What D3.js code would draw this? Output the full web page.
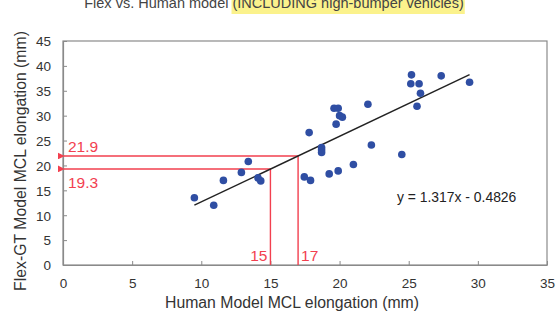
<!DOCTYPE html>
<html>
<head>
<meta charset="utf-8">
<script src="https://cdn.jsdelivr.net/npm/d3@7"></script>
<style>
  html, body { margin: 0; padding: 0; background: #fff; }
  svg { display: block; font-family: Arial, "Liberation Sans", sans-serif; }
</style>
</head>
<body>
<svg id="chart" width="560" height="321"></svg>
<script>
// Human model vs Flex-GT model MCL elongation (mm)
const humanMCL = [9.5, 10.9, 11.6, 12.9, 13.4, 14.1, 14.3, 17.45, 17.8, 17.9, 18.7, 18.7, 18.7,
  19.25, 19.9, 21.0, 19.6, 19.9, 19.75, 20.0, 20.2, 22.05, 22.3, 24.5, 25.2, 25.15, 25.75,
  25.85, 25.6, 27.35, 29.4];
const flexMCL = [13.5, 12.0, 17.0, 18.6, 20.8, 17.5, 16.9, 17.7, 26.6, 17.0, 23.6, 23.1, 22.6,
  18.3, 18.9, 20.2, 31.5, 31.5, 28.3, 30.0, 29.7, 32.3, 24.1, 22.2, 38.2, 36.4, 36.4,
  34.5, 31.9, 38.0, 36.7];

// Linear fit y = slope * x + intercept
const slope = 1.317;
const intercept = -0.4826;

// Read-off guides: human value -> predicted flex value
const guideX = [15, 17];
const guideY = [19.3, 21.9];

const xTicks = [0, 5, 10, 15, 20, 25, 30, 35];
const yTicks = [0, 5, 10, 15, 20, 25, 30, 35, 40, 45];

const svg = d3.select("#chart");
const plot = { left: 63, right: 547, top: 41, bottom: 265 };

const x = d3.scaleLinear().domain([0, 35]).range([plot.left, plot.right]);
const y = d3.scaleLinear().domain([0, 45]).range([plot.bottom, plot.top]);

const textCol = "#333";
const red = "#f2404f";

// Title (runs off the top edge), with highlighted part
const title = svg.append("text").attr("y", 8).attr("font-size", 14.5).attr("fill", "#444");
title.append("tspan").text("Flex vs. Human model ");
const hl = title.append("tspan").text("(INCLUDING high-bumper vehicles)");
// centre the title and place a highlight behind the parenthesised part
const tw = title.node().getComputedTextLength();
title.attr("x", 274 - tw / 2);
const ext = hl.node().getExtentOfChar(0);
const hw = hl.node().getComputedTextLength();
svg.insert("rect", "text")
  .attr("x", ext.x - 1).attr("y", -2)
  .attr("width", hw + 2).attr("height", 16)
  .attr("fill", "#fbf28c");

// Plot frame
svg.append("rect")
  .attr("x", plot.left).attr("y", plot.top)
  .attr("width", plot.right - plot.left).attr("height", plot.bottom - plot.top)
  .attr("fill", "none").attr("stroke", "#8a8a8a").attr("stroke-width", 1.2);

// Axes with inward ticks
const xAxis = svg.append("g").attr("transform", `translate(0,${plot.bottom})`)
  .call(d3.axisBottom(x).tickValues(xTicks).tickSizeInner(-4).tickSizeOuter(0).tickPadding(13));
const yAxis = svg.append("g").attr("transform", `translate(${plot.left},0)`)
  .call(d3.axisLeft(y).tickValues(yTicks).tickSizeInner(-4).tickSizeOuter(0).tickPadding(12));
[xAxis, yAxis].forEach(g => {
  g.select(".domain").attr("stroke", "#8a8a8a").attr("stroke-width", 1.2);
  g.selectAll(".tick line").attr("stroke", "#8a8a8a");
  g.selectAll(".tick text").attr("font-size", 13.5).attr("fill", textCol)
    .attr("font-family", "Arial, 'Liberation Sans', sans-serif");
});
yAxis.selectAll(".tick text").attr("dy", "0.36em");

// Axis titles
svg.append("text")
  .attr("x", 292).attr("y", 308).attr("text-anchor", "middle")
  .attr("font-size", 15.8).attr("fill", textCol)
  .text("Human Model MCL elongation (mm)");
svg.append("text")
  .attr("transform", "translate(26,161) rotate(-90)").attr("text-anchor", "middle")
  .attr("font-size", 15.8).attr("fill", textCol)
  .text("Flex-GT Model MCL elongation (mm)");

// Red read-off guides with arrows toward the y axis
const defs = svg.append("defs");
defs.append("marker").attr("id", "arr")
  .attr("viewBox", "0 0 10 10").attr("refX", 1).attr("refY", 5)
  .attr("markerWidth", 5).attr("markerHeight", 5).attr("orient", "auto")
  .append("path").attr("d", "M10,0 L0,5 L10,10 Z").attr("fill", red);

guideX.forEach((gx, i) => {
  const gy = guideY[i];
  svg.append("path")
    .attr("d", `M${x(gx)},${y(0)} L${x(gx)},${y(gy)} L${x(0) + 1},${y(gy)}`)
    .attr("fill", "none").attr("stroke", red).attr("stroke-width", 1.4)
    .attr("marker-end", "url(#arr)");
});
// value labels
svg.append("text").attr("x", x(15) - 3).attr("y", 261).attr("text-anchor", "end")
  .attr("font-size", 15.5).attr("fill", red).text(guideX[0]);
svg.append("text").attr("x", x(17) + 3).attr("y", 261).attr("text-anchor", "start")
  .attr("font-size", 15.5).attr("fill", red).text(guideX[1]);
svg.append("text").attr("x", 68).attr("y", y(guideY[1]) - 4)
  .attr("font-size", 15.5).attr("fill", red).text(guideY[1]);
svg.append("text").attr("x", 68).attr("y", y(guideY[0]) + 19)
  .attr("font-size", 15.5).attr("fill", red).text(guideY[0]);

// Trend line over the data range
const [xmin, xmax] = d3.extent(humanMCL);
svg.append("line")
  .attr("x1", x(xmin)).attr("y1", y(slope * xmin + intercept))
  .attr("x2", x(xmax)).attr("y2", y(slope * xmax + intercept))
  .attr("stroke", "#222").attr("stroke-width", 1.4);

// Data points
svg.append("g").selectAll("circle")
  .data(humanMCL.map((h, i) => [h, flexMCL[i]]))
  .join("circle")
  .attr("cx", d => x(d[0])).attr("cy", d => y(d[1]))
  .attr("r", 3.8).attr("fill", "#2f4ea3");

// Equation label
svg.append("text").attr("x", 397).attr("y", 202)
  .attr("font-size", 13.9).attr("fill", "#222")
  .text("y = 1.317x - 0.4826");
</script>
</body>
</html>
